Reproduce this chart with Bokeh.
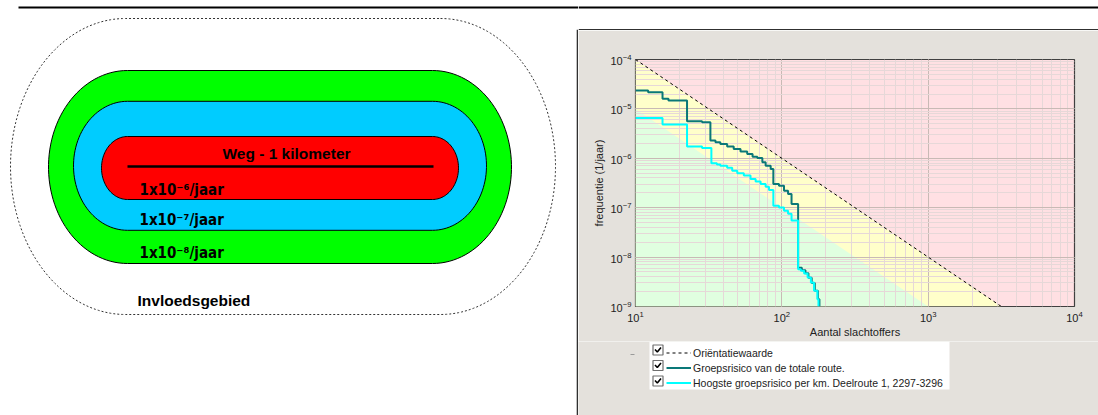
import numpy as np
from bokeh.plotting import figure
from bokeh.layouts import row, column
from bokeh.models import Range1d, Legend, LegendItem
from bokeh.core.properties import value
from bokeh.embed import file_html
from bokeh.resources import INLINE

# ---------------- data (right chart) ----------------
orient_N = [10, 3162.28]          # Oriëntatiewaarde: 1e-2 / N^2
orient_F = [1e-4, 1e-9]
green_N = [10, 1000]              # lower boundary of yellow zone
green_F = [1e-5, 1e-9]

total_N = [10, 12.2, 15.3, 16.8, 22.5, 28.5, 32.5, 35.2, 38.0, 42.3, 46.9, 52.2,
           58.0, 63.1, 68.0, 73.6, 77.5, 83.9, 87.5, 95.6, 103.5, 110.3, 116.5,
           129.2, 137, 145, 152, 160, 168, 176.4, 180.7]
total_F = [2.35e-5, 2.17e-5, 1.60e-5, 1.48e-5, 5.6e-6, 5.36e-6, 2.28e-6, 2.11e-6,
           1.95e-6, 1.73e-6, 1.55e-6, 1.38e-6, 1.22e-6, 1.08e-6, 1.02e-6, 8.3e-7,
           7.1e-7, 6.1e-7, 3.03e-7, 2.79e-7, 2.21e-7, 1.90e-7, 1.19e-7, 6.1e-9,
           5.4e-9, 4.7e-9, 3.8e-9, 3.0e-9, 2.08e-9, 1.41e-9, 1e-9]

km_N = [10, 15.3, 22.5, 28.5, 33.0, 36, 38, 42.3, 45.8, 49.6, 55.0, 61.1, 66.2,
        71.6, 77.5, 81.7, 87.5, 95.6, 103.5, 110.3, 116.5, 129.2, 134.9, 142,
        150, 158, 166, 175, 178]
km_F = [6.58e-6, 4.82e-6, 1.73e-6, 1.62e-6, 7.9e-7, 7.45e-7, 7.1e-7, 6.4e-7,
        5.6e-7, 4.96e-7, 4.46e-7, 3.82e-7, 3.41e-7, 3.03e-7, 2.67e-7, 2.29e-7,
        1.10e-7, 1.01e-7, 8.7e-8, 7.5e-8, 5.5e-8, 5.7e-9, 5.3e-9, 4.67e-9,
        3.87e-9, 3.06e-9, 2.08e-9, 1.41e-9, 1e-9]

legend_labels = ["Oriëntatiewaarde",
                 "Groepsrisico van de totale route.",
                 "Hoogste groepsrisico per km. Deelroute 1, 2297-3296"]

# ---------------- data (left diagram) ----------------
zone_labels = ["1x10⁻⁶/jaar", "1x10⁻⁷/jaar", "1x10⁻⁸/jaar"]
road_label = "Weg - 1 kilometer"
area_label = "Invloedsgebied"

FONT = "Liberation Sans"
COND = "DejaVu Sans Condensed"
PANEL = "#E4E1DC"
TEAL = "#0A7878"
CYAN = "#00FFFF"


def stadium(x0, x1, rx, cy, ry, n=60):
    t1 = np.linspace(-np.pi / 2, np.pi / 2, n)
    right_x = x1 + rx * np.cos(t1)
    right_y = cy + ry * np.sin(t1)
    t2 = np.linspace(np.pi / 2, 3 * np.pi / 2, n)
    left_x = x0 + rx * np.cos(t2)
    left_y = cy + ry * np.sin(t2)
    xs = np.concatenate([right_x, left_x, right_x[:1]])
    ys = np.concatenate([right_y, left_y, right_y[:1]])
    return xs, ys


def bare(fig, bg="white"):
    fig.axis.visible = False
    fig.grid.visible = False
    fig.outline_line_color = None
    fig.background_fill_color = bg
    fig.border_fill_color = bg


# ---------------- left figure ----------------
L = figure(width=578, height=415, x_range=Range1d(0, 578), y_range=Range1d(415, 0),
           output_backend="svg", toolbar_location=None, min_border=0, frame_align=False)
bare(L)
L.line([18, 578], [7, 7], line_color="black", line_width=2)
L.line([577, 577], [29.3, 415], line_color="#303030", line_width=1.6)

ox, oy = stadium(125, 440, 115, 166, 148, 120)
L.line(ox, oy, line_color="#333333", line_width=1, line_dash="2 2")
gx, gy = stadium(127, 432, 79, 166.5, 96.5)
L.patch(gx, gy, fill_color="#00FF00", line_color="black", line_width=1)
bx, by = stadium(127, 432, 54, 165.3, 64.5)
L.patch(bx, by, fill_color="#00CCFF", line_color="black", line_width=1)
rx_, ry_ = stadium(127, 432, 26, 167.5, 31.5)
L.patch(rx_, ry_, fill_color="#FF0000", line_color="black", line_width=1)
L.line([127, 433], [166, 166], line_color="black", line_width=2.5)

TXT = dict(text_font_style="bold", text_baseline="middle", text_color="black")
L.text([286], [153], text=[road_label], text_align="center", text_font=value(FONT),
       text_font_size="15.5px", **TXT)
L.text([139, 139, 139], [189, 219, 252], text=zone_labels, text_align="left",
       text_font=value(COND), text_font_size="15px", **TXT)
L.text([137], [299.5], text=[area_label], text_align="left", text_font=value(FONT),
       text_font_size="15.5px", **TXT)

# ---------------- top strip ----------------
S = figure(width=520, height=30, x_range=Range1d(578, 1098), y_range=Range1d(30, 0),
           output_backend="svg", toolbar_location=None, min_border=0, frame_align=False)
bare(S)
S.line([578, 1098], [7, 7], line_color="black", line_width=2)
S.line([578, 1098], [29.3, 29.3], line_color="#303030", line_width=1.6)

# ---------------- chart ----------------
P = figure(width=520, height=311, x_axis_type="log", y_axis_type="log",
           x_range=Range1d(10, 10000), y_range=Range1d(1e-9, 1e-4),
           output_backend="svg", toolbar_location=None, frame_align=False,
           min_border_left=57, min_border_right=24, min_border_top=29, min_border_bottom=35)
P.border_fill_color = PANEL
P.background_fill_color = "#FFE0E3"
P.outline_line_color = "#404040"
P.outline_line_width = 1.2

P.patch([orient_N[0], orient_N[1], orient_N[0]], [orient_F[0], orient_F[1], orient_F[1]],
        fill_color="#FFFFCA", line_color=None, level="image")
P.patch([green_N[0], green_N[1], green_N[0]], [green_F[0], green_F[1], green_F[1]],
        fill_color="#E0FFE0", line_color=None, level="image")

for ax in (P.xaxis[0], P.yaxis[0]):
    ax.ticker.num_minor_ticks = 10
    ax.axis_line_color = None
    ax.major_tick_line_color = None
    ax.minor_tick_line_color = None
    ax.major_tick_out = 0
    ax.minor_tick_out = 0
    ax.major_tick_in = 0
    ax.minor_tick_in = 0
    ax.major_label_text_font = FONT
    ax.major_label_text_font_size = "11px"
    ax.major_label_text_color = "#222222"
    ax.axis_label_text_font = FONT
    ax.axis_label_text_font_size = "11px"
    ax.axis_label_text_font_style = "normal"
    ax.axis_label_text_color = "#222222"

P.xaxis.axis_label = "Aantal slachtoffers"
P.yaxis.axis_label = "frequentie (1/jaar)"
P.xaxis.major_label_standoff = 4
P.xaxis.axis_label_standoff = 1
P.yaxis.major_label_standoff = 4
P.yaxis.axis_label_standoff = 2

for g in (P.xgrid[0], P.ygrid[0]):
    g.grid_line_color = "#C8BAB5"
    g.grid_line_width = 1
    g.minor_grid_line_color = "#E6D8D8"
    g.minor_grid_line_width = 1

P.line(orient_N, orient_F, line_color="black", line_width=1, line_dash="3 3")
P.step(total_N, total_F, mode="after", line_color=TEAL, line_width=2)
P.step(km_N, km_F, mode="after", line_color=CYAN, line_width=2)

# ---------------- legend strip ----------------
G = figure(width=520, height=74, x_range=Range1d(578, 1098), y_range=Range1d(415, 341),
           output_backend="svg", toolbar_location=None, min_border=0, frame_align=False)
bare(G, PANEL)
G.quad(left=[649], right=[949], top=[341], bottom=[389], fill_color="white", line_color=None)
G.line([630, 634], [354, 354], line_color="#9A9A9A", line_width=1)
item_y = [349.5, 365, 380.5]
G.scatter([657.5] * 3, item_y, marker="square", size=10, fill_color="white",
          line_color="#6E6E6E", line_width=1.2)
G.multi_line([[654.5, 656.8, 660.5]] * 3, [[y - 0.5, y + 2, y - 2.5] for y in item_y],
             line_color="black", line_width=1.6)

# legend-only renderers (kept outside the visible range)
d_or = G.line([0, 1], [0, 0], line_color="black", line_width=1, line_dash="3 3")
d_tot = G.line([0, 1], [0, 0], line_color=TEAL, line_width=2)
d_km = G.line([0, 1], [0, 0], line_color=CYAN, line_width=2)

legend = Legend(items=[LegendItem(label=legend_labels[0], renderers=[d_or]),
                       LegendItem(label=legend_labels[1], renderers=[d_tot]),
                       LegendItem(label=legend_labels[2], renderers=[d_km])],
                location=(88, 25), margin=0, padding=3, spacing=0,
                glyph_width=25, glyph_height=15, label_standoff=2,
                label_text_font=FONT, label_text_font_size="10.5px",
                label_text_color="#222222", label_height=15,
                background_fill_alpha=0, border_line_color=None)
G.add_layout(legend, "center")

layout = row(L, column(S, P, G))

open("out.html", "w").write(file_html(layout, INLINE))
